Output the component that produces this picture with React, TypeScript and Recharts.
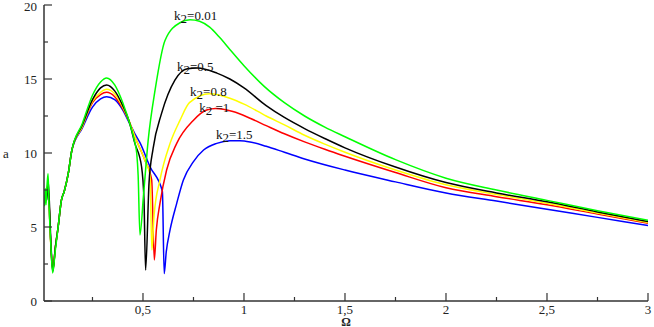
import { LineChart, Line, XAxis, YAxis, ReferenceDot } from 'recharts'

// k2 = 0.01 (green)
const omegaGreen = [0.012, 0.016, 0.02, 0.025, 0.03, 0.035, 0.045, 0.053, 0.065, 0.08, 0.096, 0.11, 0.13, 0.148, 0.2, 0.25, 0.29, 0.32, 0.36, 0.4, 0.444, 0.458, 0.469, 0.476, 0.485, 0.502, 0.526, 0.56, 0.609, 0.683, 0.733, 0.78, 0.83, 0.88, 0.93, 1.0, 1.1, 1.2, 1.3, 1.4, 1.5, 1.75, 2.0, 2.25, 2.5, 2.75, 3.0]
const aGreen = [6.4, 7.6, 6.5, 7.8, 8.6, 6.5, 3.5, 1.9, 3.3, 5.0, 6.8, 7.4, 8.6, 10.2, 12.0, 13.9, 14.8, 15.07, 14.6, 13.4, 11.55, 10.8, 9.98, 8.5, 4.46, 7.05, 10.9, 14.26, 17.6, 18.8, 19.0, 18.9, 18.5, 17.8, 17.0, 15.9, 14.5, 13.4, 12.5, 11.75, 11.1, 9.55, 8.3, 7.5, 6.8, 6.1, 5.45]

// k2 = 0.5 (black)
const omegaBlack = [0.012, 0.018, 0.024, 0.03, 0.038, 0.046, 0.054, 0.066, 0.08, 0.096, 0.11, 0.13, 0.148, 0.2, 0.25, 0.29, 0.32, 0.36, 0.4, 0.43, 0.46, 0.493, 0.505, 0.513, 0.53, 0.55, 0.592, 0.658, 0.72, 0.77, 0.866, 0.93, 1.0, 1.11, 1.2, 1.3, 1.4, 1.5, 1.75, 2.0, 2.25, 2.5, 2.75, 3.0]
const aBlack = [6.6, 7.2, 6.8, 8.2, 6.2, 3.2, 2.0, 3.6, 5.0, 6.8, 7.4, 8.6, 10.2, 11.9, 13.6, 14.4, 14.6, 14.2, 13.2, 12.2, 10.65, 9.07, 6.8, 2.1, 8.0, 10.3, 12.68, 14.93, 15.7, 15.75, 15.4, 15.0, 14.4, 13.2, 12.4, 11.65, 10.98, 10.35, 9.05, 8.0, 7.3, 6.7, 6.02, 5.37]

// k2 = 0.8 (yellow)
const omegaYellow = [0.012, 0.02, 0.03, 0.042, 0.054, 0.066, 0.08, 0.096, 0.11, 0.13, 0.148, 0.2, 0.25, 0.29, 0.32, 0.36, 0.4, 0.43, 0.46, 0.51, 0.535, 0.544, 0.555, 0.584, 0.634, 0.683, 0.73, 0.83, 0.93, 1.0, 1.11, 1.2, 1.3, 1.4, 1.5, 1.75, 2.0, 2.25, 2.5, 2.75, 3.0]
const aYellow = [6.7, 7.1, 7.9, 4.2, 2.1, 3.6, 5.0, 6.8, 7.4, 8.6, 10.2, 11.8, 13.5, 14.1, 14.3, 14.0, 13.1, 12.2, 11.1, 9.5, 8.5, 3.45, 5.8, 8.18, 10.65, 12.2, 13.4, 14.0, 13.7, 13.3, 12.5, 11.9, 11.2, 10.6, 10.05, 8.85, 7.85, 7.2, 6.6, 5.95, 5.3]

// k2 = 1 (red)
const omegaRed = [0.012, 0.02, 0.03, 0.042, 0.054, 0.066, 0.08, 0.096, 0.11, 0.13, 0.148, 0.2, 0.25, 0.29, 0.32, 0.36, 0.4, 0.43, 0.46, 0.51, 0.543, 0.556, 0.566, 0.584, 0.617, 0.667, 0.749, 0.815, 0.86, 0.945, 1.03, 1.11, 1.2, 1.3, 1.4, 1.5, 1.75, 2.0, 2.25, 2.5, 2.75, 3.0]
const aRed = [6.7, 7.0, 7.8, 4.3, 2.1, 3.6, 5.0, 6.8, 7.4, 8.6, 10.2, 11.8, 13.4, 13.95, 14.1, 13.8, 13.0, 12.2, 11.1, 9.5, 8.18, 2.77, 4.8, 6.6, 8.85, 10.65, 12.2, 12.9, 13.0, 12.8, 12.35, 11.85, 11.3, 10.75, 10.25, 9.78, 8.68, 7.65, 7.05, 6.5, 5.87, 5.25]

// k2 = 1.5 (blue)
const omegaBlue = [0.012, 0.02, 0.03, 0.042, 0.054, 0.066, 0.08, 0.096, 0.11, 0.13, 0.148, 0.2, 0.25, 0.29, 0.32, 0.36, 0.4, 0.43, 0.46, 0.485, 0.535, 0.596, 0.605, 0.615, 0.634, 0.667, 0.7, 0.749, 0.8, 0.865, 0.93, 0.98, 1.03, 1.11, 1.2, 1.3, 1.5, 1.75, 2.0, 2.25, 2.5, 2.75, 3.0]
const aBlue = [6.8, 7.0, 7.6, 4.4, 2.2, 3.6, 5.0, 6.8, 7.4, 8.6, 10.2, 11.7, 13.1, 13.65, 13.8, 13.6, 12.9, 12.1, 11.3, 10.7, 9.07, 7.4, 1.85, 3.3, 4.8, 6.6, 8.18, 9.4, 10.2, 10.65, 10.83, 10.83, 10.75, 10.45, 10.05, 9.6, 8.85, 8.05, 7.3, 6.75, 6.2, 5.65, 5.1]

const k2Labels = ['=0.01', '=0.5', '=0.8', ' =1', '=1.5']

const xMajor = [0.5, 1, 1.5, 2, 2.5, 3]
const xMinor = [0.25, 0.75, 1.25, 1.75, 2.25, 2.75]
const yMajor = [0, 5, 10, 15, 20]
const yMinor = [2.5, 7.5, 12.5, 17.5]

const xTicks = [...xMinor, ...xMajor].sort((p, q) => p - q)
const yTicks = [...yMinor, ...yMajor].sort((p, q) => p - q)

const zip = (xs: number[], ys: number[]) => xs.map((x, i) => ({ x, y: ys[i] }))

const series = [
  { name: 'k2=1.5', color: '#0000ff', data: zip(omegaBlue, aBlue) },
  { name: 'k2=1', color: '#ff0000', data: zip(omegaRed, aRed) },
  { name: 'k2=0.8', color: '#ffff00', data: zip(omegaYellow, aYellow) },
  { name: 'k2=0.5', color: '#000000', data: zip(omegaBlack, aBlack) },
  { name: 'k2=0.01', color: '#00ff00', data: zip(omegaGreen, aGreen) },
]

// where each k2 label starts (data coords), same order as k2Labels
const labelSpots = [
  { x: 0.654, y: 19.02 },
  { x: 0.668, y: 15.57 },
  { x: 0.733, y: 13.85 },
  { x: 0.778, y: 12.74 },
  { x: 0.861, y: 10.95 },
]

const font = "'Liberation Serif', 'DejaVu Serif', serif"
const axisColor = '#333'
const textStyle = { fontFamily: font }

const fmt = (v: number) => String(v).replace('.', ',')

function makeTick(side: 'bottom' | 'top' | 'left' | 'right', majors: number[], showLabel: boolean) {
  return (props: any) => {
    const { x, y, payload } = props
    const v = payload.value
    const major = majors.includes(v)
    const len = major ? 8 : 4
    let x2 = x
    let y2 = y
    if (side === 'bottom') y2 = y - len
    if (side === 'top') y2 = y + len
    if (side === 'left') x2 = x + len
    if (side === 'right') x2 = x - len
    return (
      <g>
        <line x1={x} y1={y} x2={x2} y2={y2} stroke={axisColor} strokeWidth={1.2} />
        {showLabel && major && side === 'bottom' && (
          <text x={x} y={y + 13} textAnchor="middle" style={textStyle} fontSize={13} fill="#222">
            {fmt(v)}
          </text>
        )}
        {showLabel && major && side === 'left' && (
          <text x={x - 7} y={Math.max(y, 6)} dy="0.35em" textAnchor="end" style={textStyle} fontSize={13} fill="#222">
            {fmt(v)}
          </text>
        )}
      </g>
    )
  }
}

function K2Label({ cx, cy, text }: { cx: number; cy: number; text: string }) {
  return (
    <text x={cx} y={cy} style={{ ...textStyle, whiteSpace: 'pre' }} fontSize={13} fill="#111">
      <tspan>k</tspan>
      <tspan dy={3}>2</tspan>
      <tspan dy={-3}>{text}</tspan>
    </text>
  )
}

export default function App() {
  return (
    <div style={{ position: 'absolute', left: 0, top: 0, width: 654, height: 327, background: '#fff' }}>
      <LineChart width={654} height={327} margin={{ top: 5, right: 6, bottom: 0, left: 0 }}>
        <XAxis
          dataKey="x"
          type="number"
          domain={[0.01, 3]}
          ticks={xTicks}
          interval={0}
          height={26}
          tickSize={0}
          tickMargin={0}
          tickLine={false}
          tick={makeTick('bottom', xMajor, true)}
          axisLine={{ stroke: axisColor, strokeWidth: 1.5 }}
          allowDataOverflow
          label={{ value: 'Ω', position: 'insideBottom', offset: 1, style: { fontFamily: font, fontSize: 12, fontWeight: 'bold', fill: '#222' } }}
        />
        <XAxis
          xAxisId="top"
          orientation="top"
          dataKey="x"
          type="number"
          domain={[0.01, 3]}
          ticks={xTicks}
          interval={0}
          height={0}
          tickSize={0}
          tickMargin={0}
          tickLine={false}
          tick={makeTick('top', xMajor, false)}
          axisLine={{ stroke: axisColor, strokeWidth: 1.5 }}
          allowDataOverflow
        />
        <YAxis
          type="number"
          domain={[0, 20]}
          ticks={yTicks}
          interval={0}
          width={44}
          tickSize={0}
          tickMargin={0}
          tickLine={false}
          tick={makeTick('left', yMajor, true)}
          axisLine={{ stroke: axisColor, strokeWidth: 1.5 }}
          allowDataOverflow
          label={{ value: 'a', position: 'insideLeft', offset: 3, style: { fontFamily: font, fontSize: 13, fill: '#222' } }}
        />
        <YAxis
          yAxisId="right"
          orientation="right"
          type="number"
          domain={[0, 20]}
          ticks={yTicks}
          interval={0}
          width={0}
          tickSize={0}
          tickMargin={0}
          tickLine={false}
          tick={makeTick('right', yMajor, false)}
          axisLine={{ stroke: axisColor, strokeWidth: 1.5 }}
          allowDataOverflow
        />
        {series.map((s) => (
          <Line
            key={s.name}
            data={s.data}
            dataKey="y"
            name={s.name}
            type="monotone"
            stroke={s.color}
            strokeWidth={1.5}
            dot={false}
            activeDot={false}
            isAnimationActive={false}
          />
        ))}
        {labelSpots.map((p, i) => (
          <ReferenceDot
            key={k2Labels[i]}
            x={p.x}
            y={p.y}
            r={0}
            ifOverflow="visible"
            shape={(props: any) => <K2Label cx={props.cx} cy={props.cy} text={k2Labels[i]} />}
          />
        ))}
      </LineChart>
    </div>
  )
}
